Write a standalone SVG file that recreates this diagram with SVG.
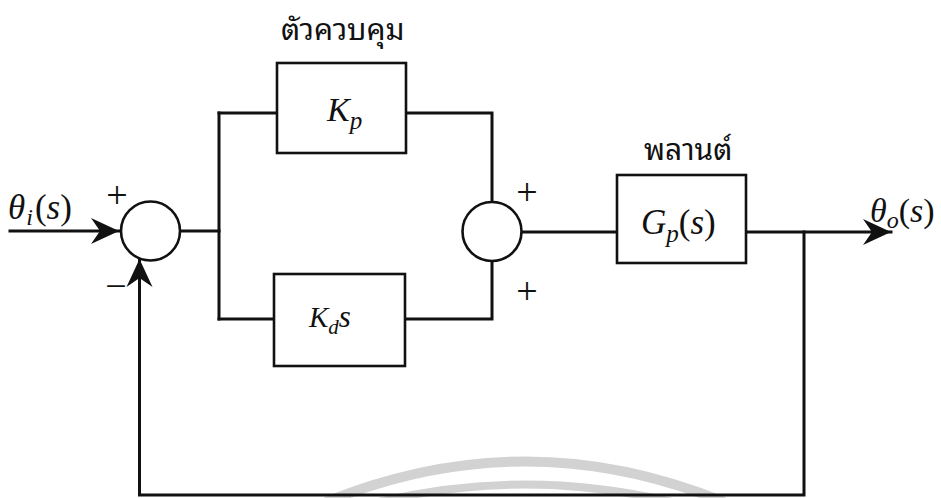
<svg xmlns="http://www.w3.org/2000/svg" width="941" height="498" viewBox="0 0 941 498">
  <style>
    .blk { fill: #ffffff; stroke: #111111; stroke-width: 2.6; }
    .ln { fill: none; stroke: #111111; stroke-width: 3; stroke-linecap: square; }
    .math { font-family: "Liberation Serif", "Times New Roman", serif; font-style: italic; fill: #111111; }
    .up { font-style: normal; }
    .sign { font-family: "Liberation Serif", "Times New Roman", serif; font-size: 38px; fill: #111111; text-anchor: middle; }
    .thai { font-family: "Noto Sans Thai Looped", "Noto Serif Thai", "Norasi", "Garuda", "Loma", "Noto Sans Thai", "DejaVu Sans", sans-serif; font-size: 30px; fill: #111111; }
    .wm { fill: none; stroke: #d2d2d2; }
  </style>
  <defs>
    <marker id="arrow" markerUnits="userSpaceOnUse" markerWidth="30" markerHeight="30" viewBox="0 0 30 30" refX="28" refY="15" orient="auto">
      <path d="M 0 2 L 28 15 L 0 28 L 9 15 Z" fill="#111111"/>
    </marker>
  </defs>

  <rect width="941" height="498" fill="#ffffff"/>

  <!-- watermark arcs -->
  <g id="watermark">
    <path class="wm" stroke-width="10" d="M 326 502 Q 525 421 724 502"/>
    <path class="wm" stroke-width="8" d="M 378 502 Q 525 467 672 502"/>
  </g>

  <!-- connectors -->
  <g id="connectors">
    <path class="ln" d="M 10 231 H 119" marker-end="url(#arrow)"/>
    <path class="ln" d="M 180 231 H 219"/>
    <path class="ln" d="M 219 113 V 319"/>
    <path class="ln" d="M 219 113 H 277"/>
    <path class="ln" d="M 219 319 H 274"/>
    <path class="ln" d="M 406 113 H 492 V 202"/>
    <path class="ln" d="M 405 319 H 492 V 261"/>
    <path class="ln" d="M 521.5 232 H 617"/>
    <path class="ln" d="M 746 232 H 891" marker-end="url(#arrow)"/>
    <path class="ln" d="M 804 232 V 495 H 139.5 V 259" marker-end="url(#arrow)"/>
  </g>

  <!-- summing junction 1 -->
  <g id="sum1">
    <circle class="blk" cx="150.5" cy="231" r="29.5"/>
    <text class="sign" x="117" y="208">+</text>
    <text class="sign" x="116" y="299">−</text>
  </g>

  <!-- Kp block -->
  <g id="kp">
    <rect class="blk" x="277" y="63" width="129" height="90"/>
    <text class="math" x="327" y="121" font-size="34">K<tspan font-size="25" dy="8">p</tspan></text>
  </g>

  <!-- Kd s block -->
  <g id="kd">
    <rect class="blk" x="274" y="274" width="131" height="92"/>
    <text class="math" x="309" y="327" font-size="29">K<tspan font-size="21" dy="7">d</tspan><tspan font-size="31" dy="-7">s</tspan></text>
  </g>

  <!-- summing junction 2 -->
  <g id="sum2">
    <circle class="blk" cx="492" cy="231.5" r="29.5"/>
    <text class="sign" x="527" y="205">+</text>
    <text class="sign" x="527" y="304">+</text>
  </g>

  <!-- Gp block -->
  <g id="gp">
    <rect class="blk" x="617" y="175" width="129" height="88"/>
    <text class="math" x="641" y="234" font-size="35">G<tspan font-size="25" dy="8">p</tspan><tspan class="up" dy="-8">(</tspan>s<tspan class="up">)</tspan></text>
  </g>

  <!-- labels -->
  <g id="labels">
    <text class="math" x="8" y="219" font-size="35">θ<tspan font-size="24" dy="6" dx="1">i</tspan><tspan class="up" dy="-6" dx="2">(</tspan>s<tspan class="up">)</tspan></text>
    <text class="math" x="870" y="222" font-size="34">θ<tspan font-size="24" dy="6">o</tspan><tspan class="up" dy="-6">(</tspan>s<tspan class="up">)</tspan></text>
    <text class="thai" x="281" y="40">ตัวควบคุม</text>
    <text class="thai" x="644" y="160">พลานต์</text>
  </g>
</svg>
